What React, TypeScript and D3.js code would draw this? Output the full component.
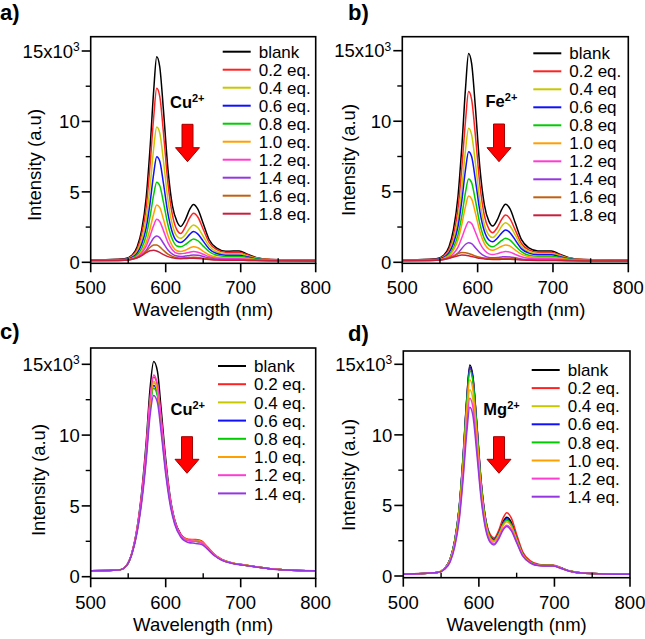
import React from "react";
import * as d3 from "d3";

// ---------- data ----------
const WL_AB = [500, 545, 555, 562, 568, 574, 579, 584, 588, 592, 597, 603, 609, 615, 620, 626, 632, 637, 643, 650, 658, 668, 680, 690, 698, 708, 720, 740, 800];
const WL_C = [500, 530, 540, 548, 555, 562, 568, 574, 579, 584, 589, 594, 600, 606, 612, 620, 630, 640, 648, 655, 665, 675, 690, 705, 720, 740, 760, 800];
const WL_D = [500, 545, 555, 562, 568, 574, 579, 584, 588, 592, 597, 603, 609, 615, 620, 626, 632, 637, 643, 650, 658, 668, 680, 690, 698, 708, 720, 740, 800];

// Panel a (Cu2+)
const A_BLANK = [0.15, 0.25, 0.5, 1.1, 2.3, 4.6, 8.0, 12.2, 14.6, 13.9, 10.8, 6.6, 4.0, 2.9, 2.55, 3.0, 3.75, 4.1, 3.75, 2.75, 1.6, 1.0, 0.78, 0.8, 0.8, 0.6, 0.35, 0.2, 0.15];
const A_02 = [0.15, 0.22, 0.45, 0.95, 2.0, 3.9, 6.8, 10.3, 12.35, 11.8, 9.2, 5.6, 3.35, 2.3, 2.05, 2.5, 3.15, 3.48, 3.2, 2.35, 1.4, 0.9, 0.72, 0.72, 0.72, 0.55, 0.32, 0.2, 0.15];
const A_04 = [0.15, 0.2, 0.4, 0.8, 1.6, 3.1, 5.3, 8.1, 9.6, 9.2, 7.2, 4.4, 2.65, 1.85, 1.7, 1.95, 2.42, 2.65, 2.45, 1.85, 1.15, 0.75, 0.6, 0.6, 0.6, 0.47, 0.3, 0.18, 0.14];
const A_06 = [0.14, 0.2, 0.35, 0.65, 1.3, 2.45, 4.15, 6.3, 7.5, 7.2, 5.6, 3.45, 2.1, 1.5, 1.4, 1.62, 1.98, 2.18, 2.0, 1.5, 0.95, 0.62, 0.5, 0.5, 0.5, 0.4, 0.26, 0.17, 0.14];
const A_08 = [0.14, 0.18, 0.3, 0.52, 1.0, 1.9, 3.2, 4.8, 5.68, 5.45, 4.25, 2.65, 1.62, 1.16, 1.1, 1.25, 1.5, 1.66, 1.53, 1.15, 0.75, 0.5, 0.42, 0.42, 0.42, 0.34, 0.23, 0.16, 0.13];
const A_10 = [0.13, 0.17, 0.26, 0.42, 0.78, 1.42, 2.35, 3.45, 4.07, 3.9, 3.05, 1.9, 1.15, 0.82, 0.76, 0.86, 1.02, 1.11, 1.03, 0.78, 0.52, 0.36, 0.31, 0.31, 0.31, 0.26, 0.19, 0.14, 0.12];
const A_12 = [0.13, 0.16, 0.24, 0.38, 0.66, 1.15, 1.85, 2.62, 3.05, 2.9, 2.25, 1.4, 0.88, 0.64, 0.6, 0.65, 0.72, 0.76, 0.72, 0.57, 0.4, 0.29, 0.25, 0.25, 0.25, 0.21, 0.16, 0.13, 0.12];
const A_14 = [0.12, 0.15, 0.22, 0.33, 0.52, 0.85, 1.3, 1.72, 1.87, 1.75, 1.35, 0.87, 0.58, 0.44, 0.41, 0.44, 0.49, 0.52, 0.5, 0.41, 0.3, 0.22, 0.2, 0.2, 0.2, 0.17, 0.14, 0.12, 0.11];
const A_16 = [0.12, 0.15, 0.22, 0.33, 0.5, 0.78, 1.05, 1.23, 1.22, 1.1, 0.85, 0.58, 0.42, 0.33, 0.31, 0.32, 0.34, 0.35, 0.34, 0.29, 0.23, 0.18, 0.16, 0.16, 0.16, 0.14, 0.12, 0.11, 0.1];
const A_18 = [0.12, 0.15, 0.22, 0.32, 0.48, 0.68, 0.82, 0.85, 0.8, 0.7, 0.55, 0.4, 0.32, 0.27, 0.26, 0.27, 0.28, 0.28, 0.27, 0.24, 0.2, 0.16, 0.15, 0.15, 0.15, 0.13, 0.12, 0.11, 0.1];

// Panel b (Fe2+)
const B_BLANK = [0.15, 0.25, 0.5, 1.1, 2.35, 4.7, 8.2, 12.4, 14.8, 14.1, 11.0, 6.7, 4.05, 2.9, 2.57, 3.0, 3.75, 4.11, 3.78, 2.78, 1.62, 1.02, 0.8, 0.8, 0.8, 0.6, 0.35, 0.2, 0.15];
const B_02 = [0.15, 0.22, 0.44, 0.92, 1.95, 3.85, 6.7, 10.1, 12.1, 11.55, 9.0, 5.5, 3.3, 2.35, 2.1, 2.45, 3.05, 3.35, 3.08, 2.28, 1.35, 0.88, 0.72, 0.72, 0.72, 0.55, 0.32, 0.19, 0.15];
const B_04 = [0.15, 0.2, 0.4, 0.78, 1.6, 3.05, 5.25, 8.0, 9.5, 9.05, 7.05, 4.35, 2.65, 1.92, 1.75, 2.05, 2.56, 2.81, 2.58, 1.92, 1.15, 0.76, 0.62, 0.62, 0.62, 0.48, 0.3, 0.18, 0.14];
const B_06 = [0.14, 0.2, 0.36, 0.68, 1.35, 2.55, 4.35, 6.6, 7.84, 7.5, 5.85, 3.6, 2.2, 1.58, 1.45, 1.7, 2.08, 2.29, 2.1, 1.57, 0.97, 0.65, 0.54, 0.54, 0.54, 0.42, 0.27, 0.17, 0.14];
const B_08 = [0.14, 0.18, 0.3, 0.55, 1.05, 1.95, 3.3, 5.0, 5.9, 5.65, 4.4, 2.72, 1.66, 1.2, 1.1, 1.28, 1.55, 1.7, 1.57, 1.18, 0.76, 0.5, 0.43, 0.43, 0.43, 0.35, 0.23, 0.16, 0.13];
const B_10 = [0.13, 0.17, 0.27, 0.47, 0.88, 1.6, 2.68, 3.98, 4.7, 4.5, 3.5, 2.18, 1.32, 0.93, 0.85, 0.97, 1.14, 1.23, 1.15, 0.87, 0.58, 0.4, 0.34, 0.34, 0.34, 0.28, 0.2, 0.14, 0.12];
const B_12 = [0.13, 0.16, 0.23, 0.36, 0.62, 1.08, 1.74, 2.47, 2.88, 2.75, 2.15, 1.35, 0.85, 0.6, 0.55, 0.61, 0.71, 0.76, 0.72, 0.56, 0.4, 0.29, 0.25, 0.25, 0.25, 0.21, 0.16, 0.13, 0.12];
const B_14 = [0.12, 0.15, 0.2, 0.28, 0.42, 0.66, 0.98, 1.28, 1.39, 1.32, 1.03, 0.68, 0.45, 0.34, 0.32, 0.34, 0.38, 0.4, 0.38, 0.32, 0.24, 0.19, 0.17, 0.17, 0.17, 0.15, 0.13, 0.12, 0.11];
const B_16 = [0.12, 0.15, 0.22, 0.32, 0.46, 0.62, 0.7, 0.68, 0.62, 0.55, 0.45, 0.36, 0.3, 0.26, 0.25, 0.26, 0.27, 0.28, 0.27, 0.24, 0.2, 0.16, 0.15, 0.15, 0.15, 0.13, 0.12, 0.11, 0.1];
const B_18 = [0.11, 0.14, 0.2, 0.28, 0.38, 0.47, 0.52, 0.5, 0.46, 0.41, 0.35, 0.28, 0.24, 0.21, 0.2, 0.2, 0.21, 0.21, 0.21, 0.19, 0.17, 0.14, 0.13, 0.13, 0.13, 0.12, 0.11, 0.1, 0.1];

// Panel c (Cu2+)
const C_BLANK = [0.42, 0.45, 0.5, 0.8, 1.7, 3.5, 6.0, 9.5, 13.2, 15.2, 14.5, 11.8, 8.3, 5.6, 4.0, 3.0, 2.6, 2.55, 2.45, 2.1, 1.55, 1.2, 0.95, 0.82, 0.7, 0.56, 0.48, 0.42];
const C_02 = [0.42, 0.45, 0.5, 0.8, 1.68, 3.4, 5.7, 9.0, 12.4, 14.1, 13.5, 11.1, 7.9, 5.45, 3.95, 3.0, 2.65, 2.62, 2.52, 2.15, 1.58, 1.22, 0.96, 0.83, 0.7, 0.56, 0.48, 0.42];
const C_04 = [0.42, 0.45, 0.5, 0.8, 1.66, 3.35, 5.6, 8.8, 12.15, 13.8, 13.2, 10.85, 7.75, 5.35, 3.9, 2.95, 2.6, 2.56, 2.46, 2.1, 1.55, 1.2, 0.95, 0.82, 0.7, 0.56, 0.48, 0.42];
const C_06 = [0.42, 0.45, 0.5, 0.8, 1.65, 3.3, 5.5, 8.6, 11.9, 13.5, 12.9, 10.65, 7.6, 5.3, 3.85, 2.93, 2.57, 2.52, 2.42, 2.07, 1.53, 1.19, 0.94, 0.82, 0.7, 0.56, 0.48, 0.42];
const C_08 = [0.42, 0.45, 0.5, 0.8, 1.64, 3.25, 5.45, 8.5, 11.75, 13.3, 12.75, 10.5, 7.5, 5.25, 3.82, 2.9, 2.55, 2.5, 2.4, 2.05, 1.52, 1.18, 0.94, 0.81, 0.7, 0.56, 0.48, 0.42];
const C_10 = [0.42, 0.45, 0.5, 0.8, 1.66, 3.33, 5.55, 8.7, 12.05, 13.7, 13.1, 10.8, 7.7, 5.33, 3.88, 2.93, 2.58, 2.53, 2.43, 2.08, 1.54, 1.19, 0.95, 0.82, 0.7, 0.56, 0.48, 0.42];
const C_12 = [0.42, 0.45, 0.5, 0.8, 1.7, 3.45, 5.8, 9.1, 12.55, 14.25, 13.6, 11.2, 7.95, 5.45, 3.92, 2.95, 2.55, 2.5, 2.4, 2.05, 1.52, 1.18, 0.94, 0.81, 0.7, 0.56, 0.48, 0.42];
const C_14 = [0.42, 0.45, 0.5, 0.78, 1.6, 3.15, 5.25, 8.2, 11.3, 12.8, 12.3, 10.15, 7.25, 5.05, 3.7, 2.8, 2.42, 2.35, 2.28, 1.98, 1.48, 1.15, 0.92, 0.8, 0.69, 0.55, 0.47, 0.42];

// Panel d (Mg2+)
const D_BLANK = [0.12, 0.25, 0.55, 1.2, 2.5, 4.9, 8.4, 12.6, 14.95, 14.2, 11.0, 6.7, 4.0, 2.85, 2.6, 3.05, 3.85, 4.16, 3.8, 2.75, 1.6, 1.0, 0.78, 0.75, 0.75, 0.58, 0.35, 0.2, 0.12];
const D_02 = [0.12, 0.25, 0.55, 1.18, 2.45, 4.8, 8.25, 12.4, 14.7, 14.0, 10.9, 6.7, 4.05, 2.95, 2.7, 3.2, 4.1, 4.49, 4.1, 2.95, 1.72, 1.07, 0.82, 0.78, 0.78, 0.6, 0.36, 0.2, 0.12];
const D_04 = [0.12, 0.24, 0.52, 1.1, 2.25, 4.35, 7.45, 11.2, 13.2, 12.55, 9.75, 5.95, 3.6, 2.62, 2.45, 2.9, 3.7, 4.0, 3.65, 2.65, 1.55, 0.98, 0.76, 0.74, 0.74, 0.57, 0.35, 0.2, 0.12];
const D_06 = [0.12, 0.25, 0.55, 1.2, 2.48, 4.85, 8.3, 12.5, 14.8, 14.05, 10.9, 6.6, 3.95, 2.8, 2.55, 3.0, 3.75, 4.05, 3.7, 2.68, 1.57, 0.99, 0.77, 0.75, 0.75, 0.58, 0.35, 0.2, 0.12];
const D_08 = [0.12, 0.25, 0.55, 1.2, 2.46, 4.8, 8.2, 12.3, 14.55, 13.85, 10.75, 6.5, 3.9, 2.75, 2.5, 2.95, 3.68, 3.97, 3.63, 2.64, 1.55, 0.98, 0.77, 0.75, 0.75, 0.58, 0.35, 0.2, 0.12];
const D_10 = [0.12, 0.25, 0.54, 1.15, 2.35, 4.6, 7.85, 11.8, 13.9, 13.2, 10.25, 6.25, 3.75, 2.67, 2.45, 2.88, 3.58, 3.85, 3.52, 2.57, 1.52, 0.97, 0.76, 0.74, 0.74, 0.57, 0.35, 0.2, 0.12];
const D_12 = [0.12, 0.24, 0.5, 1.05, 2.15, 4.15, 7.1, 10.7, 12.6, 12.0, 9.3, 5.7, 3.45, 2.48, 2.3, 2.7, 3.35, 3.6, 3.3, 2.42, 1.45, 0.93, 0.74, 0.72, 0.72, 0.56, 0.34, 0.2, 0.12];
const D_14 = [0.12, 0.24, 0.5, 1.0, 2.05, 3.95, 6.75, 10.15, 11.95, 11.4, 8.85, 5.45, 3.3, 2.38, 2.2, 2.6, 3.25, 3.5, 3.2, 2.36, 1.42, 0.92, 0.73, 0.71, 0.71, 0.55, 0.34, 0.2, 0.12];

const LABELS_A = ["blank", "0.2 eq.", "0.4 eq.", "0.6 eq.", "0.8 eq.", "1.0 eq.", "1.2 eq.", "1.4 eq.", "1.6 eq.", "1.8 eq."];
const LABELS_B = ["blank", "0.2 eq.", "0.4 eq", "0.6 eq", "0.8 eq", "1.0 eq", "1.2 eq", "1.4 eq", "1.6 eq", "1.8 eq"];
const LABELS_CD = ["blank", "0.2 eq.", "0.4 eq.", "0.6 eq.", "0.8 eq.", "1.0 eq.", "1.2 eq.", "1.4 eq."];

const COLORS = ["#000000", "#FF2222", "#C8C800", "#1010FF", "#00CC00", "#FFA000", "#FF3CD0", "#9636E0", "#C06010", "#C8203C"];

const X_TICKS = [500, 600, 700, 800];
const X_MINOR = [550, 650, 750];
const Y_TICKS = [0, 5, 10, 15];
const Y_MINOR = [2.5, 7.5, 12.5];

// ---------- layout ----------
const FONT = "Arial, 'Liberation Sans', Helvetica, sans-serif";

type PanelDef = {
  letter: string;
  letterX: number;
  letterY: number;
  wl: number[];
  series: number[][];
  labels: string[];
  ion: string;
  x0: number; x1: number;
  y0: number; y15: number;
  top: number; bottom: number;
  legX: number; legY: number; legDy: number;
  ionX: number; ionY: number;
  arrowX: number; arrowTop: number; arrowTip: number;
  ylabX: number; ylabY: number;
};

const PANELS: PanelDef[] = [
  {
    letter: "a)", letterX: 0, letterY: 20, wl: WL_AB,
    series: [A_BLANK, A_02, A_04, A_06, A_08, A_10, A_12, A_14, A_16, A_18],
    labels: LABELS_A, ion: "Cu",
    x0: 90.7, x1: 315.7, y0: 262.3, y15: 51, top: 36.7, bottom: 263.3,
    legX: 222.7, legY: 51.7, legDy: 18,
    ionX: 170, ionY: 108, arrowX: 187.5, arrowTop: 124.3, arrowTip: 161.7,
    ylabX: 41, ylabY: 165,
  },
  {
    letter: "b)", letterX: 348, letterY: 20, wl: WL_AB,
    series: [B_BLANK, B_02, B_04, B_06, B_08, B_10, B_12, B_14, B_16, B_18],
    labels: LABELS_B, ion: "Fe",
    x0: 402.3, x1: 628.3, y0: 262.3, y15: 50.7, top: 36.7, bottom: 263.3,
    legX: 533.3, legY: 53.3, legDy: 18,
    ionX: 485.5, ionY: 107, arrowX: 499, arrowTop: 124, arrowTip: 161.7,
    ylabX: 355, ylabY: 160,
  },
  {
    letter: "c)", letterX: 0, letterY: 339, wl: WL_C,
    series: [C_BLANK, C_02, C_04, C_06, C_08, C_10, C_12, C_14],
    labels: LABELS_CD, ion: "Cu",
    x0: 90.7, x1: 315.7, y0: 576.7, y15: 364.3, top: 348, bottom: 578.3,
    legX: 218, legY: 366, legDy: 18.2,
    ionX: 170.5, ionY: 415, arrowX: 187, arrowTop: 436.7, arrowTip: 473.3,
    ylabX: 45, ylabY: 480,
  },
  {
    letter: "d)", letterX: 348, letterY: 341, wl: WL_D,
    series: [D_BLANK, D_02, D_04, D_06, D_08, D_10, D_12, D_14],
    labels: LABELS_CD, ion: "Mg",
    x0: 403.3, x1: 630, y0: 576, y15: 364.3, top: 351, bottom: 577.7,
    legX: 531.7, legY: 370, legDy: 18.1,
    ionX: 483.3, ionY: 415, arrowX: 499, arrowTop: 436.7, arrowTip: 473.3,
    ylabX: 355, ylabY: 475,
  },
];

function Panel({ p }: { p: PanelDef }) {
  const x = d3.scaleLinear().domain([500, 800]).range([p.x0, p.x1]);
  const y = d3.scaleLinear().domain([0, 15]).range([p.y0, p.y15]);
  const line = d3
    .line<[number, number]>()
    .x((d) => x(d[0]))
    .y((d) => y(d[1]))
    .curve(d3.curveMonotoneX);

  const hw = 5.5;
  const hh = 12;
  const headStart = p.arrowTip - 14;
  const ax = p.arrowX;
  const arrowPts = [
    [ax - hw, p.arrowTop],
    [ax + hw, p.arrowTop],
    [ax + hw, headStart],
    [ax + hh, headStart],
    [ax, p.arrowTip],
    [ax - hh, headStart],
    [ax - hw, headStart],
  ]
    .map((q) => q.join(","))
    .join(" ");

  const legLen = 28;
  const tickFont = 18.5;
  const clipId = `clip-${p.letter[0]}`;

  return (
    <g>
      <text x={p.letterX} y={p.letterY} fontFamily={FONT} fontWeight="bold" fontSize={22}>
        {p.letter}
      </text>
      <defs>
        <clipPath id={clipId}>
          <rect x={p.x0} y={p.top} width={p.x1 - p.x0} height={p.bottom - p.top} />
        </clipPath>
      </defs>
      <g clipPath={`url(#${clipId})`}>
        {p.series.map((s, i) => (
          <path
            key={i}
            d={line(p.wl.map((w, k) => [w, s[k]] as [number, number])) || ""}
            fill="none"
            stroke={COLORS[i]}
            strokeWidth={1.5}
          />
        ))}
      </g>
      {/* frame */}
      <rect
        x={p.x0}
        y={p.top}
        width={p.x1 - p.x0}
        height={p.bottom - p.top}
        fill="none"
        stroke="#000"
        strokeWidth={1.6}
      />
      {/* x ticks */}
      {X_TICKS.map((t) => (
        <g key={`xt${t}`}>
          <line x1={x(t)} x2={x(t)} y1={p.bottom} y2={p.bottom + 9} stroke="#000" strokeWidth={1.6} />
          <text
            x={x(t)}
            y={p.bottom + 31}
            textAnchor="middle"
            fontFamily={FONT}
            fontSize={tickFont}
          >
            {t}
          </text>
        </g>
      ))}
      {X_MINOR.map((t) => (
        <line key={`xm${t}`} x1={x(t)} x2={x(t)} y1={p.bottom} y2={p.bottom - 5} stroke="#000" strokeWidth={1.4} />
      ))}
      {/* y ticks */}
      {Y_TICKS.map((t) => (
        <g key={`yt${t}`}>
          <line x1={p.x0 - 9} x2={p.x0} y1={y(t)} y2={y(t)} stroke="#000" strokeWidth={1.6} />
          <text
            x={p.x0 - 11}
            y={y(t)}
            dy="0.36em"
            textAnchor="end"
            fontFamily={FONT}
            fontSize={tickFont}
          >
            {t === 15 ? (
              <>
                15x10
                <tspan dy="-0.55em" fontSize={12}>3</tspan>
              </>
            ) : (
              String(t)
            )}
          </text>
        </g>
      ))}
      {Y_MINOR.map((t) => (
        <line key={`ym${t}`} x1={p.x0 - 5} x2={p.x0} y1={y(t)} y2={y(t)} stroke="#000" strokeWidth={1.4} />
      ))}
      {/* axis titles */}
      <text
        x={(p.x0 + p.x1) / 2}
        y={p.bottom + 53}
        textAnchor="middle"
        fontFamily={FONT}
        fontSize={tickFont}
      >
        Wavelength (nm)
      </text>
      <text
        transform={`translate(${p.ylabX},${p.ylabY}) rotate(-90)`}
        textAnchor="middle"
        fontFamily={FONT}
        fontSize={tickFont}
      >
        Intensity (a.u)
      </text>
      {/* legend */}
      {p.labels.map((lab, i) => {
        const ly = p.legY + i * p.legDy;
        return (
          <g key={`lg${i}`}>
            <line x1={p.legX} x2={p.legX + legLen} y1={ly} y2={ly} stroke={COLORS[i]} strokeWidth={2} />
            <text x={p.legX + legLen + 8} y={ly} dy="0.36em" fontFamily={FONT} fontSize={17}>
              {lab}
            </text>
          </g>
        );
      })}
      {/* ion label */}
      <text x={p.ionX} y={p.ionY} fontFamily={FONT} fontWeight="bold" fontSize={16.5}>
        {p.ion}
        <tspan dy={-6} fontSize={11}>2+</tspan>
      </text>
      <polygon points={arrowPts} fill="#FF0000" stroke="#A00000" strokeWidth={1} />
    </g>
  );
}

export default function App() {
  return (
    <svg
      width={645}
      height={639}
      style={{ position: "absolute", left: 0, top: 0, background: "#fff" }}
    >
      <rect x={0} y={0} width={645} height={639} fill="#fff" />
      {PANELS.map((p) => (
        <Panel key={p.letter} p={p} />
      ))}
    </svg>
  );
}
